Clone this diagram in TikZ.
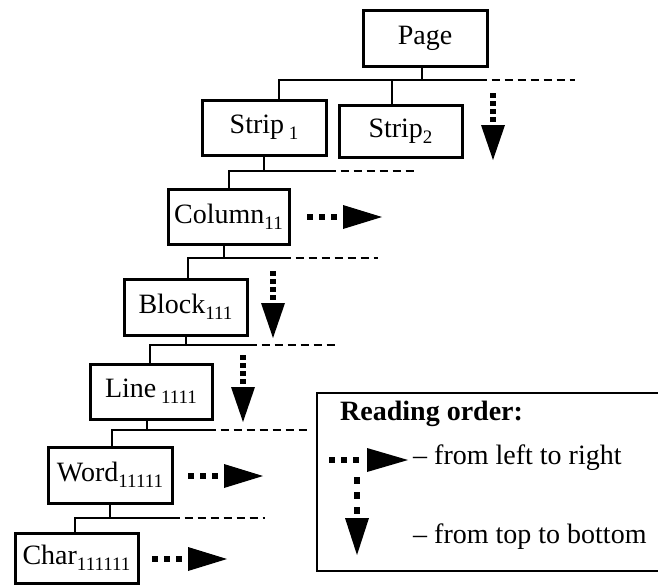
\documentclass[tikz,border=0pt]{standalone}
\usepackage{fontspec}
\setmainfont{Liberation Serif}
\newcommand{\sub}[1]{\raisebox{-0.45ex}{\fontsize{19pt}{19pt}\selectfont #1}}
\newcommand{\rarrow}[2]{%
  \draw[dotshaft] (#1,#2) -- ({#1+30},#2);
  \fill[head] ({#1+36},{#2-12}) -- ({#1+75},#2) -- ({#1+36},{#2+12}) -- cycle;}
\newcommand{\darrow}[2]{%
  \draw[vdotshaft] (#1,#2) -- (#1,{#2+29});
  \fill[head] ({#1-12},{#2+32}) -- (#1,{#2+67}) -- ({#1+12},{#2+32}) -- cycle;}
\begin{document}
\begin{tikzpicture}[x=1pt,y=-1pt,
  box/.style={draw, line width=3pt, inner sep=0pt, font=\fontsize{28pt}{28pt}\selectfont},
  conn/.style={line width=2pt},
  dashconn/.style={line width=1.8pt, dash pattern=on 8pt off 5pt},
  dotshaft/.style={line width=6pt, dash pattern=on 6pt off 6pt},
  vdotshaft/.style={line width=6pt, dash pattern=on 5pt off 3pt},
  head/.style={fill=black},
  lbl/.style={font=\fontsize{28pt}{28pt}\selectfont, inner sep=0pt, anchor=west}]
\useasboundingbox (0,0) rectangle (658,587);

% tree nodes
\node[box, minimum width=124pt, minimum height=56pt] (page) at (425,38) {Page};
\node[box, minimum width=124pt, minimum height=55pt] (s1) at (264,127.5) {Strip\,\sub{1}};
\node[box, minimum width=123pt, minimum height=52pt] (s2) at (400.5,131) {Strip\sub{2}};
\node[box, minimum width=121pt, minimum height=55pt] (col) at (228.5,216.5) {Column\sub{11}};
\node[box, minimum width=123pt, minimum height=56pt] (blk) at (185.5,307) {Block\sub{111}};
\node[box, minimum width=122pt, minimum height=55pt] (lin) at (151,391.5) {Line\,\sub{1111}};
\node[box, minimum width=124pt, minimum height=56pt] (wrd) at (110,475) {Word\sub{11111}};
\node[box, minimum width=123pt, minimum height=50pt] (chr) at (76.5,558) {Char\sub{111111}};

% junction ends
\coordinate (e0) at (575,80);
\coordinate (e1) at (418,171);
\coordinate (e2) at (378,258);
\coordinate (e3) at (335,345);
\coordinate (e4) at (310,430);
\coordinate (e5) at (265,518);

% level 0
\draw[conn] ([xshift=-3pt]page.south) -- ([xshift=-3pt]page.south |- e0);
\draw[conn] ([xshift=15pt]s1.north) |- ([xshift=-10pt]page.east |- e0);
\draw[dashconn] ([xshift=-10pt]page.east |- e0) -- (e0);
\draw[conn] ([xshift=-8.5pt]s2.north) -- ([xshift=-8.5pt]s2.north |- e0);
% level 1
\draw[conn] (s1.south) -- (s1.south |- e1);
\draw[conn] (col.north) |- (s1.east |- e1);
\draw[dashconn] (s1.east |- e1) -- (e1);
% level 2
\draw[conn] ([xshift=-5pt]col.south) -- ([xshift=-5pt]col.south |- e2);
\draw[conn] ([xshift=2.5pt]blk.north) |- ([xshift=-8pt]col.east |- e2);
\draw[dashconn] ([xshift=-8pt]col.east |- e2) -- (e2);
% level 3
\draw[conn] (blk.south) -- (blk.south |- e3);
\draw[conn] ([xshift=-1pt]lin.north) |- (blk.east |- e3);
\draw[dashconn] (blk.east |- e3) -- (e3);
% level 4
\draw[conn] ([xshift=-4pt]lin.south) -- ([xshift=-4pt]lin.south |- e4);
\draw[conn] ([xshift=2pt]wrd.north) |- ([xshift=-6pt]lin.east |- e4);
\draw[dashconn] ([xshift=-6pt]lin.east |- e4) -- (e4);
% level 5
\draw[conn] (wrd.south) -- (wrd.south |- e5);
\draw[conn] ([xshift=-1.5pt]chr.north) |- ([xshift=-2pt]wrd.east |- e5);
\draw[dashconn] ([xshift=-2pt]wrd.east |- e5) -- (e5);

% reading-order arrows
\darrow{493}{93}
\rarrow{307}{217}
\darrow{273}{271}
\darrow{243}{355}
\rarrow{188}{476}
\rarrow{152}{559}

% legend
\node[draw, line width=2.2pt, inner sep=0pt, minimum width=360pt, minimum height=178pt, anchor=north west] (legend) at (316,392) {};
\node[lbl, font=\fontsize{28pt}{28pt}\selectfont\bfseries] (ro) at (340,414) {Reading order:};
\draw[dotshaft] (329,460) -- (362,460);
\fill[head] (367,448) -- (408,460) -- (367,472) -- cycle;
\node[lbl] (lr) at (413,458) {– from left to right};
\draw[line width=6pt, dash pattern=on 7pt off 8pt] (357,477) -- (357,515);
\fill[head] (345,518) -- (357,555) -- (369,518) -- cycle;
\node[lbl] (tb) at (413,537) {– from top to bottom};
\end{tikzpicture}
\end{document}
